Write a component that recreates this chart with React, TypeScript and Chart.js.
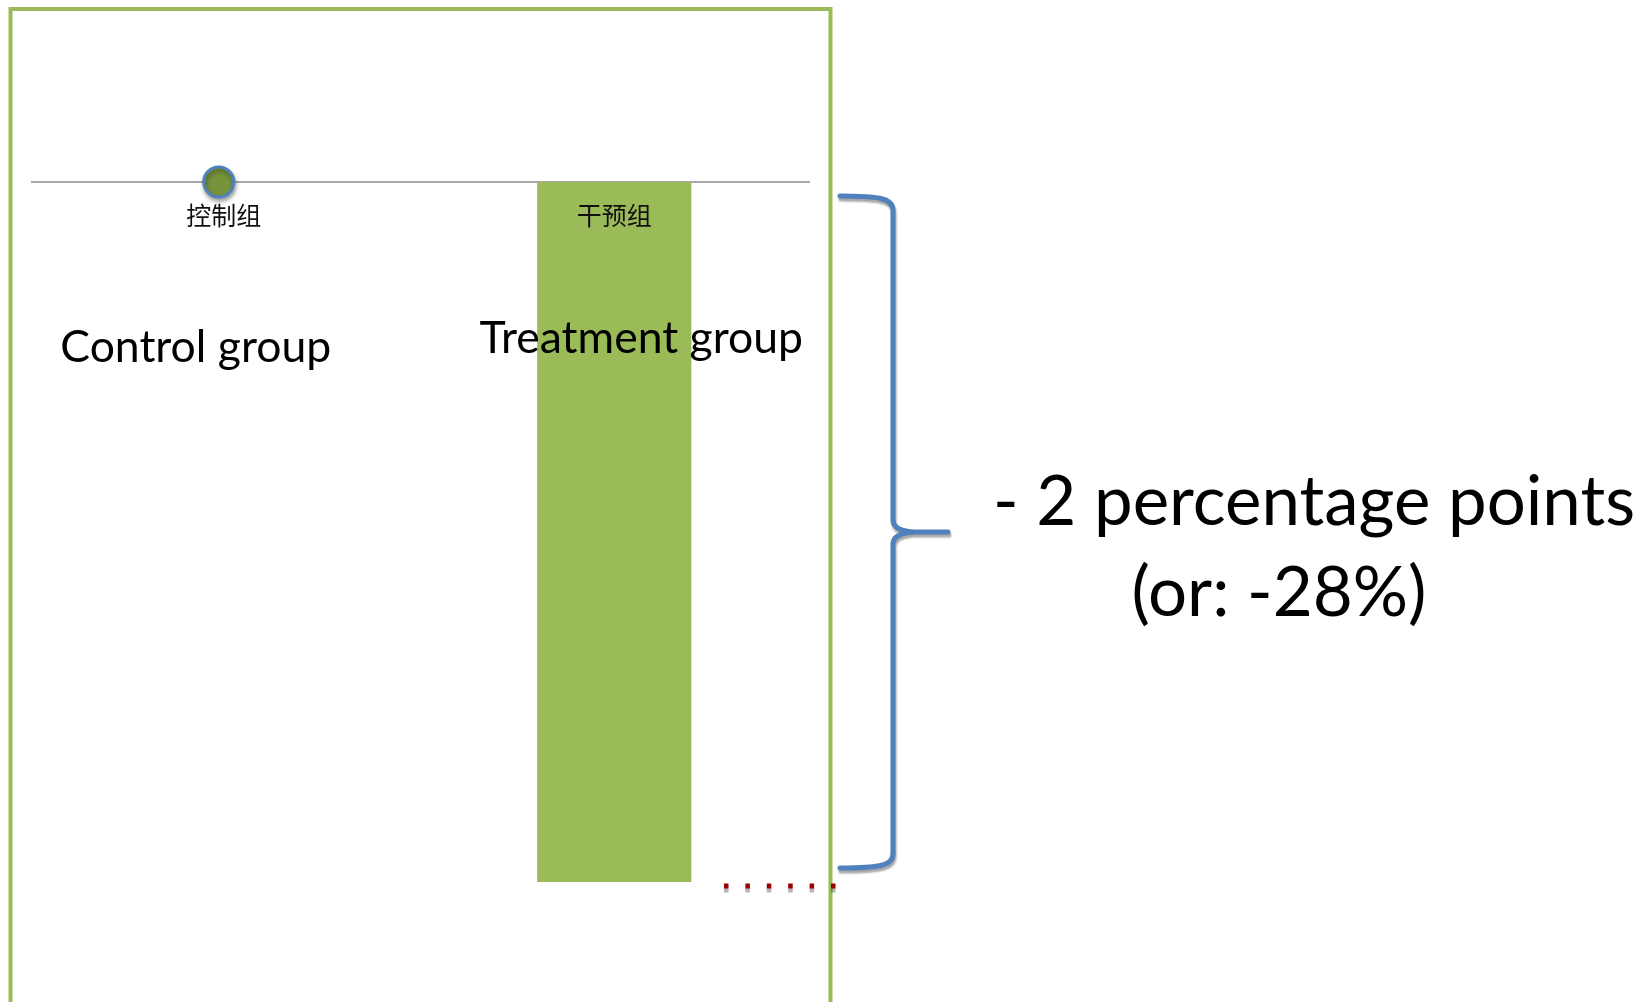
import React, { useEffect, useRef } from "react";
import { Chart, registerables } from "chart.js";

Chart.register(...registerables);

// Groups on the category axis
const categories = ["控制组", "干预组"];
// Control group marker sits on the zero line
const controlValues: (number | null)[] = [0, null];
// Treatment group change, in percentage points
const treatmentValues: (number | null)[] = [null, -2];
// English group names written under each group
const groupNames = ["Control group", "Treatment group"];
// Effect annotation next to the brace
const effectLines = ["- 2 percentage points", "(or: -28%)"];

const GREEN = "#9BBB59";
const OLIVE = "#77933C";
const BLUE = "#4F81BD";
const DARK_RED = "#9A0000";
const LATO = "Lato, 'Open Sans', sans-serif";
const CJK = "'Noto Sans CJK SC', sans-serif";

const annotations = {
  id: "annotations",
  beforeDraw(chart: any) {
    const { ctx } = chart;
    ctx.save();
    ctx.fillStyle = "#ffffff";
    ctx.fillRect(0, 0, chart.width, chart.height);
    // green frame around the plot (open at the bottom)
    ctx.strokeStyle = GREEN;
    ctx.lineWidth = 4;
    ctx.strokeRect(10.5, 9, 820, 1100);
    ctx.restore();
  },
  beforeDatasetsDraw(chart: any) {
    const { ctx, chartArea } = chart;
    const y = chart.scales.y;
    const y0 = y.getPixelForValue(0);
    ctx.save();
    ctx.strokeStyle = "#A8A8A8";
    ctx.lineWidth = 2;
    ctx.beginPath();
    ctx.moveTo(chartArea.left + 10, y0);
    ctx.lineTo(chartArea.right - 2, y0);
    ctx.stroke();
    ctx.restore();
  },
  beforeDatasetDraw(chart: any, args: any) {
    if (args.index === 0) {
      const { ctx } = chart;
      ctx.save();
      ctx.shadowColor = "rgba(0,0,0,0.35)";
      ctx.shadowBlur = 4;
      ctx.shadowOffsetX = 1;
      ctx.shadowOffsetY = 3;
    }
  },
  afterDatasetDraw(chart: any, args: any) {
    if (args.index === 0) chart.ctx.restore();
  },
  afterDatasetsDraw(chart: any) {
    const { ctx, chartArea } = chart;
    const x = chart.scales.x;
    const y = chart.scales.y;
    const y0 = y.getPixelForValue(0);
    const yT = y.getPixelForValue(treatmentValues[1] as number);

    ctx.save();
    // category labels just below the zero line
    ctx.fillStyle = "#111";
    ctx.font = `25px ${CJK}`;
    ctx.textAlign = "center";
    ctx.textBaseline = "middle";
    categories.forEach((c, i) => {
      ctx.fillText(c, x.getPixelForValue(i) + (i === 0 ? 5 : 0), y0 + 33);
    });

    // English group names
    ctx.fillStyle = "#000";
    ctx.textBaseline = "alphabetic";
    ctx.font = `44.5px ${LATO}`;
    ctx.fillText(groupNames[0], x.getPixelForValue(0) - 23, y0 + 180);
    ctx.fillText(groupNames[1], x.getPixelForValue(1) + 27, y0 + 171);

    // dotted marker at the treatment level
    ctx.save();
    ctx.shadowColor = "rgba(0,0,0,0.3)";
    ctx.shadowBlur = 1;
    ctx.shadowOffsetY = 4;
    ctx.strokeStyle = DARK_RED;
    ctx.lineWidth = 5;
    ctx.setLineDash([4.5, 16.9]);
    ctx.beginPath();
    ctx.moveTo(chartArea.right - 88, yT + 4);
    ctx.lineTo(chartArea.right + 25, yT + 4);
    ctx.stroke();
    ctx.restore();

    // curly brace spanning the change
    const top = y0 + 14;
    const bottom = yT - 14;
    const mid = (top + bottom) / 2;
    const L = chartArea.right + 28;
    const S = chartArea.right + 81;
    const T = chartArea.right + 136;
    ctx.save();
    ctx.shadowColor = "rgba(0,0,0,0.35)";
    ctx.shadowBlur = 2;
    ctx.shadowOffsetX = 1;
    ctx.shadowOffsetY = 3;
    ctx.strokeStyle = BLUE;
    ctx.lineWidth = 5;
    ctx.lineCap = "round";
    ctx.lineJoin = "round";
    ctx.beginPath();
    ctx.moveTo(L, top);
    ctx.bezierCurveTo(L + 38, top, S, top + 2, S, top + 14);
    ctx.lineTo(S, mid - 12);
    ctx.quadraticCurveTo(S, mid - 1, S + 22, mid);
    ctx.lineTo(T, mid);
    ctx.moveTo(S + 22, mid);
    ctx.quadraticCurveTo(S, mid + 1, S, mid + 12);
    ctx.lineTo(S, bottom - 14);
    ctx.bezierCurveTo(S, bottom - 2, L + 38, bottom, L, bottom);
    ctx.stroke();
    ctx.restore();

    // effect size text
    ctx.fillStyle = "#000";
    ctx.font = `69px ${LATO}`;
    ctx.textAlign = "center";
    ctx.fillText(effectLines[0], 1314, 525);
    ctx.fillText(effectLines[1], 1279, 616);
    ctx.restore();
  },
};

export default function App() {
  const canvasRef = useRef<HTMLCanvasElement | null>(null);

  useEffect(() => {
    const canvas = canvasRef.current;
    if (!canvas) return;
    const chart = new Chart(canvas, {
      type: "bar",
      data: {
        labels: categories,
        datasets: [
          {
            type: "line",
            label: "控制组",
            data: controlValues,
            showLine: false,
            pointRadius: 15,
            pointHoverRadius: 15,
            pointBackgroundColor: OLIVE,
            pointBorderColor: BLUE,
            pointBorderWidth: 3,
            order: 0,
          } as any,
          {
            type: "bar",
            label: "干预组",
            data: treatmentValues,
            backgroundColor: GREEN,
            borderWidth: 0,
            barPercentage: 0.39,
            categoryPercentage: 1,
            order: 1,
          },
        ],
      },
      options: {
        responsive: false,
        animation: false,
        devicePixelRatio: 1,
        layout: { padding: { left: 21, right: 835, top: 20, bottom: 20 } },
        plugins: {
          legend: { display: false },
          tooltip: { enabled: false },
          title: { display: false },
        },
        scales: {
          x: { display: false, offset: true },
          y: { display: false, min: -2.2857, max: 0.4629 },
        },
      },
      plugins: [annotations],
    });
    return () => chart.destroy();
  }, []);

  return (
    <div style={{ position: "fixed", left: 0, top: 0, width: 1647, height: 1002, background: "#fff" }}>
      <canvas ref={canvasRef} width={1647} height={1002} style={{ display: "block" }} />
    </div>
  );
}
